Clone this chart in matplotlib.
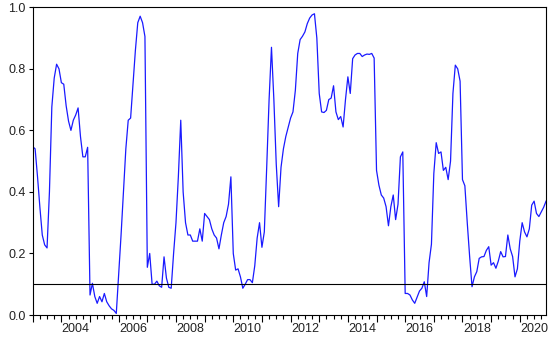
import numpy as np
import matplotlib
matplotlib.use("Agg")
import matplotlib.pyplot as plt
from matplotlib.ticker import FixedLocator, FuncFormatter, NullFormatter

plt.rcParams['font.family'] = ['Liberation Sans', 'DejaVu Sans']

# monthly series, 2003M01 - 2020M12
start_year = 2003
values = [
    # 2003
    0.547, 0.540, 0.450, 0.350, 0.260, 0.228, 0.218, 0.400, 0.676, 0.770, 0.815, 0.800,
    # 2004
    0.755, 0.750, 0.680, 0.630, 0.600, 0.633, 0.650, 0.673, 0.580, 0.514, 0.514, 0.545,
    # 2005
    0.065, 0.103, 0.060, 0.038, 0.060, 0.043, 0.070, 0.043, 0.030, 0.020, 0.015, 0.005,
    # 2006
    0.130, 0.260, 0.400, 0.540, 0.633, 0.640, 0.750, 0.860, 0.950, 0.971, 0.950, 0.905,
    # 2007
    0.155, 0.200, 0.100, 0.100, 0.110, 0.095, 0.090, 0.189, 0.120, 0.090, 0.087, 0.200,
    # 2008
    0.300, 0.450, 0.633, 0.400, 0.300, 0.260, 0.260, 0.240, 0.240, 0.240, 0.280, 0.240,
    # 2009
    0.330, 0.320, 0.310, 0.280, 0.260, 0.250, 0.215, 0.260, 0.300, 0.320, 0.360, 0.449,
    # 2010
    0.200, 0.146, 0.150, 0.124, 0.087, 0.100, 0.115, 0.115, 0.105, 0.160, 0.250, 0.300,
    # 2011
    0.220, 0.270, 0.480, 0.700, 0.870, 0.700, 0.490, 0.352, 0.480, 0.540, 0.580, 0.610,
    # 2012
    0.640, 0.660, 0.730, 0.850, 0.895, 0.906, 0.920, 0.947, 0.965, 0.975, 0.979, 0.900,
    # 2013
    0.720, 0.660, 0.658, 0.665, 0.700, 0.705, 0.745, 0.660, 0.635, 0.645, 0.611, 0.700,
    # 2014
    0.774, 0.720, 0.833, 0.845, 0.850, 0.850, 0.840, 0.845, 0.848, 0.847, 0.850, 0.835,
    # 2015
    0.470, 0.422, 0.390, 0.380, 0.352, 0.290, 0.352, 0.390, 0.310, 0.360, 0.514, 0.530,
    # 2016
    0.070, 0.070, 0.065, 0.049, 0.038, 0.058, 0.078, 0.087, 0.108, 0.060, 0.170, 0.230,
    # 2017
    0.460, 0.560, 0.525, 0.530, 0.470, 0.480, 0.440, 0.500, 0.720, 0.812, 0.800, 0.760,
    # 2018
    0.440, 0.420, 0.300, 0.190, 0.092, 0.124, 0.141, 0.184, 0.189, 0.190, 0.210, 0.222,
    # 2019
    0.162, 0.170, 0.152, 0.175, 0.206, 0.189, 0.190, 0.260, 0.215, 0.190, 0.124, 0.150,
    # 2020
    0.240, 0.300, 0.270, 0.254, 0.280, 0.357, 0.370, 0.330, 0.320, 0.335, 0.350, 0.370,
]
threshold = 0.1
year_labels = list(range(2004, 2021, 2))
y_ticks = [0.0, 0.2, 0.4, 0.6, 0.8, 1.0]

t = start_year + np.arange(len(values)) / 12.0

fig = plt.figure(figsize=(5.5, 3.44), dpi=100)
ax = fig.add_axes([0.0595, 0.0843, 0.9333, 0.8945])

ax.plot(t, values, color="#1a1aff", lw=0.9)
ax.axhline(threshold, color="black", lw=0.8)

ax.set_xlim(t[0], t[-1])
ax.set_ylim(0, 1.0)

# x axis: tall ticks at year starts, small quarterly ticks, labels mid-year
years = np.arange(start_year, 2021)
ax.xaxis.set_major_locator(FixedLocator(years))
ax.xaxis.set_major_formatter(NullFormatter())
quarters = [y + q / 4 for y in years for q in (1, 2, 3)]
ax.xaxis.set_minor_locator(FixedLocator(quarters))

def minor_label(x, pos):
    for y in year_labels:
        if abs(x - (y + 0.5)) < 1e-6:
            return str(y)
    return ""

ax.xaxis.set_minor_formatter(FuncFormatter(minor_label))
ax.tick_params(axis="x", which="major", direction="out", length=5, width=0.8)
ax.tick_params(axis="x", which="minor", direction="out", length=3, width=0.8,
               labelsize=9, pad=3, labelcolor="#222222")

ax.set_yticks(y_ticks)
ax.set_yticklabels([f"{v:.1f}" for v in y_ticks])
ax.tick_params(axis="y", direction="out", length=3, width=0.8,
               labelsize=9, pad=2, labelcolor="#222222")

for s in ax.spines.values():
    s.set_linewidth(0.8)
    s.set_color("black")

fig.savefig("out.png", dpi=100)
